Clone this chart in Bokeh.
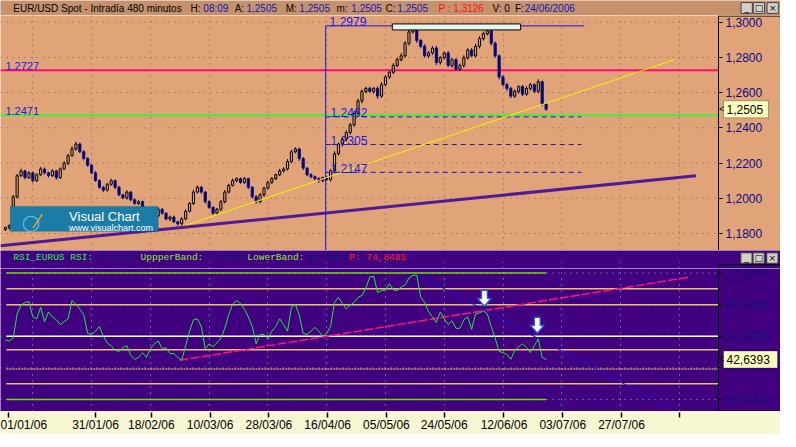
from bokeh.plotting import figure
from bokeh.layouts import column
from bokeh.models import Range1d, FixedTicker, Label, BoxAnnotation, ColumnDataSource
from bokeh.core.properties import value
from bokeh.embed import file_html
from bokeh.resources import INLINE

# ---------------- data ----------------
date_tick_idx = [0.75, 23.0, 37.25, 52.25, 67.25, 82.25, 97.25, 112.0, 127.25, 142.25, 157.25, 172.0]
date_tick_labels = ["01/01/06", "31/01/06", "18/02/06", "10/03/06", "28/03/06", "16/04/06",
                    "05/05/06", "24/05/06", "12/06/06", "03/07/06", "27/07/06", ""]
grid_idx = [7.0, 22.0, 37.0, 52.0, 67.0, 82.0, 97.0, 112.0, 127.0, 142.0, 157.0, 172.0]

price_ticks = [1.18, 1.20, 1.22, 1.24, 1.26, 1.28, 1.30]
price_tick_labels = ["1,1800", "1,2000", "1,2200", "1,2400", "1,2600", "1,2800", "1,3000"]
rsi_ticks = [30.0, 40.0, 50.0, 60.0, 70.0]
rsi_tick_labels = ["30,0000", "40,0000", "50,0000", "60,0000", "70,0000"]

open0 = 1.1822
close_prices = [
    1.1833, 1.1844, 1.2008, 1.2128, 1.2155, 1.2117, 1.2144, 1.2100, 1.2133, 1.2166,
    1.2144, 1.2128, 1.2155, 1.2117, 1.2166, 1.2198, 1.2242, 1.2280, 1.2308, 1.2264,
    1.2226, 1.2188, 1.2144, 1.2100, 1.2062, 1.2046, 1.2079, 1.2100, 1.2062, 1.2019,
    1.2002, 1.2035, 1.1991, 1.1970, 1.1980, 1.1942, 1.1915, 1.1937, 1.1899, 1.1937,
    1.1915, 1.1882, 1.1893, 1.1866, 1.1855, 1.1882, 1.1926, 1.1970, 1.2035, 1.2062,
    1.2035, 1.1980, 1.1948, 1.1915, 1.1937, 1.1980, 1.2035, 1.2073, 1.2100, 1.2111,
    1.2090, 1.2111, 1.2062, 1.2008, 1.1980, 1.2019, 1.2057, 1.2090, 1.2111, 1.2133,
    1.2155, 1.2166, 1.2209, 1.2264, 1.2280, 1.2226, 1.2171, 1.2133, 1.2122, 1.2111,
    1.2100, 1.2117, 1.2106, 1.2155, 1.2253, 1.2308, 1.2335, 1.2373, 1.2417, 1.2482,
    1.2553, 1.2607, 1.2624, 1.2607, 1.2624, 1.2580, 1.2645, 1.2689, 1.2716, 1.2754,
    1.2787, 1.2809, 1.2880, 1.2945, 1.2962, 1.2896, 1.2863, 1.2809, 1.2825, 1.2853,
    1.2771, 1.2798, 1.2825, 1.2754, 1.2787, 1.2733, 1.2754, 1.2798, 1.2842, 1.2809,
    1.2863, 1.2907, 1.2934, 1.2951, 1.2880, 1.2809, 1.2689, 1.2645, 1.2624, 1.2580,
    1.2607, 1.2634, 1.2591, 1.2624, 1.2645, 1.2607, 1.2662, 1.2536, 1.2505]
wick_up = [
    6, 8, 10, 9, 12, 7, 10, 6, 9, 11,
    8, 7, 10, 6, 9, 12, 10, 14, 12, 8,
    9, 7, 6, 10, 8, 7, 9, 11, 6, 8,
    7, 10, 6, 8, 9, 7, 6, 9, 8, 10,
    7, 6, 9, 8, 6, 10, 12, 9, 14, 10,
    8, 7, 9, 6, 8, 10, 12, 9, 11, 8,
    7, 10, 6, 8, 9, 11, 8, 10, 9, 7,
    12, 10, 14, 11, 9, 7, 8, 6, 9, 7,
    8, 6, 10, 12, 14, 9, 11, 13, 10, 15,
    12, 10, 9, 11, 8, 12, 14, 10, 9, 13,
    11, 15, 12, 16, 17, 10, 9, 12, 10, 11,
    13, 9, 8, 12, 10, 9, 11, 14, 10, 12,
    15, 13, 12, 24, 9, 11, 8, 10, 12, 9,
    11, 8, 10, 12, 9, 8, 14, 6, 5]
wick_dn = [
    8, 12, 6, 10, 8, 9, 7, 11, 8, 6,
    9, 10, 7, 12, 8, 6, 9, 7, 10, 8,
    11, 9, 8, 7, 10, 12, 8, 9, 11, 7,
    8, 10, 9, 7, 8, 11, 9, 8, 10, 7,
    9, 8, 11, 7, 12, 9, 8, 7, 9, 8,
    10, 11, 8, 9, 7, 10, 9, 8, 7, 9,
    8, 10, 11, 9, 12, 8, 10, 7, 9, 8,
    7, 9, 8, 10, 9, 14, 11, 8, 9, 10,
    12, 9, 8, 11, 13, 10, 15, 12, 11, 10,
    12, 14, 11, 10, 13, 15, 9, 10, 12, 11,
    10, 9, 11, 13, 10, 14, 12, 10, 13, 11,
    15, 12, 10, 11, 13, 9, 10, 12, 11, 9,
    10, 12, 11, 9, 13, 12, 14, 10, 15, 12,
    10, 13, 11, 9, 12, 10, 11, 13, 8]
rsi_values = [
    48.8, 48.5, 49.4, 57.1, 59.8, 60.7, 61.0, 56.1, 55.5, 59.2,
    54.6, 57.7, 56.1, 55.2, 53.7, 54.6, 55.5, 61.3, 60.1, 58.6,
    56.8, 50.9, 50.6, 51.6, 53.1, 50.0, 47.9, 47.0, 45.5, 45.2,
    46.4, 47.0, 43.9, 42.7, 43.3, 44.8, 43.3, 46.1, 47.6, 48.5,
    46.1, 46.4, 44.5, 44.5, 43.3, 42.4, 47.0, 51.6, 55.2, 55.5,
    53.1, 46.1, 47.6, 46.7, 47.9, 49.4, 52.5, 56.8, 60.1, 61.3,
    60.4, 58.6, 56.1, 53.1, 47.6, 50.6, 50.6, 49.1, 51.6, 53.1,
    55.5, 53.7, 51.6, 59.2, 60.1, 56.8, 50.9, 50.6, 51.6, 52.8,
    51.6, 50.0, 50.9, 53.1, 60.7, 62.3, 60.4, 58.6, 59.8, 60.7,
    62.3, 62.9, 65.3, 68.7, 69.0, 63.8, 64.4, 64.7, 66.6, 64.7,
    64.4, 65.6, 66.2, 68.4, 69.3, 69.3, 62.3, 60.7, 57.7, 56.1,
    54.3, 57.7, 55.5, 53.7, 54.9, 52.5, 52.5, 55.2, 56.1, 52.2,
    57.1, 57.4, 58.0, 57.1, 53.1, 49.4, 45.2, 44.8, 44.2, 42.7,
    45.5, 46.7, 47.6, 46.4, 44.8, 47.0, 49.1, 43.3, 42.6393]

# drawn studies (levels and trend lines)
level_red = 1.2727
level_green = 1.2471
fib_top = 1.2979
fib_levels = [1.2462, 1.2305, 1.2147]
fib_x = [81.75, 147.75]
top_box_x = [98.75, 131.5]
top_box_y = [1.2956, 1.2990]
support_x = [-1.25, 176.25]
support_y = [1.1730, 1.2128]
trend_x = [45.0, 170.75]
trend_y = [1.1838, 1.2787]
rsi_pink_x = [44.5, 174.5]
rsi_pink_y = [42.4, 68.7]
rsi_blue_x = [105.0, 171.25]
rsi_blue_y = [69.6, 26.2]
rsi_yellow_levels = [65.0, 60.0, 45.7, 35.0]
rsi_dotted_level = 39.6
rsi_mid = 50.0
rsi_bands = [70.0, 30.0]
rsi_arrows = [(122.25, 59.5), (135.75, 50.95)]

# header texts
hdr_items = [(13, "EUR/USD Spot - Intradía 480 minutos", "black"), (194, "H:", "black"),
             (207, "08:09", "#1418B4"), (239, "A:", "black"), (251, "1,2505", "#1418B4"),
             (291, "M:", "black"), (305, "1,2505", "#1418B4"), (343, "m:", "black"),
             (358, "1,2505", "#1418B4"), (393, "C:", "black"), (405, "1,2505", "#1418B4"),
             (447, "P : 1,3126", "#FF1010"), (502, "V: 0", "black"), (525, "F:", "black"),
             (535, "24/06/2006", "#1418B4")]
rsi_hdr = [(13, "RSI_EURUS RSI:", "#33E84A"), (98, "42,6393", "#1C1C78"),
           (143, "UppperBand:", "#8CF02A"), (208, "70,0000", "#1C1C78"),
           (252, "LowerBand:", "#8CF02A"), (312, "30,0000", "#1C1C78"),
           (356, "P: 74,8485", "#FF2020")]
win_buttons = [(761.5, "_"), (774.0, "□"), (788.0, "×")]

# ---------------- styling / layout ----------------
W = 780
H_HDR, H_PRICE, H_RT, H_RSI = 15, 235, 18, 143
HDR = "#C6916D"
BG = "#E1A479"
PURPLE = "#400080"
XBG = "#F7F7D4"
NAVY = "#0A0A8C"
FONT = "Liberation Sans"
MONO = "Liberation Mono"

AX_X = 182.0                      # data x where the price axis sits (ref pixel 733)
UPP = 183.25 / 718                # data units per screen pixel
X_RANGE = Range1d(-1.25, -1.25 + UPP * W)
X_END = X_RANGE.end
P_YR = (1.1703, 1.3038)
R_YR = (26.18, 71.44)


def fx(x):  # reference pixel -> screen pixel
    return x * 718 / 733


def ref_to_idx(px):
    return -1.25 + px * 0.25


def ppy(y):  # price frame y from bottom
    return (261 - y) * H_PRICE / 245


def lab(fig, x, y, text, color, size="11px", font=FONT, xu="screen", yu="screen",
        align="left", base="middle", yoff=0, **kw):
    fig.add_layout(Label(x=x, y=y, x_units=xu, y_units=yu, text=text, text_color=color,
                         text_font_size=size, text_font=font, text_align=align,
                         text_baseline=base, y_offset=yoff, **kw))


def base_fig(h, yr, bg):
    f = figure(frame_width=W, frame_height=h, x_range=X_RANGE, y_range=Range1d(*yr),
               x_axis_location=None, y_axis_location="right", output_backend="svg",
               toolbar_location=None, min_border=0, background_fill_color=bg,
               border_fill_color=bg, outline_line_color=None)
    ax = f.yaxis[0]
    ax.fixed_location = AX_X
    ax.axis_line_color = "black"
    ax.major_tick_line_color = "black"
    ax.major_tick_out = 4
    ax.major_tick_in = 0
    ax.minor_tick_line_color = None
    ax.major_label_standoff = 3
    ax.major_label_text_font = FONT
    ax.major_label_text_font_size = "12px"
    f.ygrid.visible = False
    f.xgrid.ticker = FixedTicker(ticks=grid_idx)
    return f


def value_box(fig, yv, text, per_px, width):
    fig.add_layout(BoxAnnotation(left=AX_X + 5 * UPP, right=AX_X + (5 + width) * UPP,
                                 bottom=yv - 8.5 * per_px, top=yv + 8.5 * per_px,
                                 fill_color="#FFFFC0", fill_alpha=1, line_color="black",
                                 line_width=1))
    fig.add_layout(Label(x=AX_X + 0.5 * UPP, y=yv, text="<", text_color="black",
                         text_font_size="9px", text_font=FONT, text_baseline="middle"))
    fig.add_layout(Label(x=AX_X + 8 * UPP, y=yv, text=text, text_color="black",
                         text_font_size="12px", text_font=FONT, text_baseline="middle"))


def add_buttons(fig, xs, ys, w, h):
    fig.rect(x=xs, y=ys, width=w, height=h, fill_color="#D4D0C8", line_color="#404040")
    fig.text(x=xs, y=ys, text=[b[1] for b in win_buttons], text_color="black",
             text_font=value("DejaVu Sans"), text_font_size=value("9px"),
             text_align="center", text_baseline="middle")


# ---------------- header ----------------
hdr = figure(frame_width=W, frame_height=H_HDR, x_range=Range1d(0, 796), y_range=Range1d(0, 16),
             x_axis_location=None, y_axis_location=None, output_backend="svg",
             toolbar_location=None, min_border=0, background_fill_color=HDR,
             border_fill_color=HDR, outline_line_color=None)
hdr.grid.visible = False
hsrc = ColumnDataSource(dict(x=[h[0] for h in hdr_items], y=[8.0] * len(hdr_items),
                             t=[h[1] for h in hdr_items], c=[h[2] for h in hdr_items]))
hdr.text(x="x", y="y", text="t", text_color="c", source=hsrc, text_font=value(FONT),
         text_font_size=value("10px"), text_align="left", text_baseline="middle")
add_buttons(hdr, [b[0] for b in win_buttons], [8.0] * 3, 11.5, 11.5)

# ---------------- price panel ----------------
p = base_fig(H_PRICE, P_YR, BG)
p.yaxis.ticker = FixedTicker(ticks=price_ticks)
p.yaxis.major_label_overrides = dict(zip(price_ticks, price_tick_labels))
p.yaxis.major_label_text_color = NAVY
p.xgrid.grid_line_color = "#7E5E4C"
p.xgrid.grid_line_dash = "1 5"
p.segment(x0=X_RANGE.start, x1=AX_X, y0=price_ticks, y1=price_ticks, line_color="#7E5E4C",
          line_dash="1 5", line_width=1)
p_pp = (P_YR[1] - P_YR[0]) / H_PRICE
p.line([AX_X, X_END], [P_YR[1] - 0.5 * p_pp] * 2, line_color="black", line_width=1)

XL = [X_RANGE.start, AX_X]
p.line(XL, [level_red] * 2, line_color="#FF0A78", line_width=2)
p.line(XL, [level_green] * 2, line_color="#3CF03C", line_width=2)
for lv, c in zip(fib_levels, ["#1010E6", "#24208A", "#1010E6"]):
    p.line([fib_x[0], fib_x[1] - 0.75], [lv, lv], line_color=c, line_width=1, line_dash="5 4")

n = len(close_prices)
idx = list(range(n))
opens = [open0] + close_prices[:-1]
highs = [max(o, c) + u * 0.0001 for o, c, u in zip(opens, close_prices, wick_up)]
lows = [min(o, c) - d * 0.0001 for o, c, d in zip(opens, close_prices, wick_dn)]
is_up = [c >= o for o, c in zip(opens, close_prices)]
src = ColumnDataSource(dict(
    x=idx, top=[max(o, c) for o, c in zip(opens, close_prices)],
    bottom=[min(o, c) for o, c in zip(opens, close_prices)], hi=highs, lo=lows,
    fill=[BG if u else "#06064A" for u in is_up],
    line=["black" if u else "#0C0C8A" for u in is_up]))
p.segment(x0="x", y0="lo", x1="x", y1="hi", line_color="line", line_width=1, source=src)
p.vbar(x="x", width=0.55, top="top", bottom="bottom", fill_color="fill", line_color="line",
       line_width=1, source=src)

p.line([fib_x[0]] * 2, [P_YR[0], fib_top], line_color="#1414F0", line_width=1)
p.line(fib_x, [fib_top] * 2, line_color="#1414F0", line_width=1)
p.quad(left=top_box_x[0], right=top_box_x[1], bottom=top_box_y[0], top=top_box_y[1],
       fill_color="#E6F8EE", line_color="black", line_width=1)
p.line(trend_x, trend_y, line_color="#FFEE00", line_width=1)
p.line(support_x, support_y, line_color="#501A96", line_width=3)

LB = "#1A1AE6"
lab(p, fx(5), level_red, "1.2727", LB, yu="data", base="alphabetic", yoff=4)
lab(p, fx(5), level_green, "1.2471", LB, yu="data", base="alphabetic", yoff=4)
lab(p, fx(336), fib_top, "1.2979", LB, size="12px", yu="data", base="alphabetic", yoff=4)
for lv in fib_levels:
    lab(p, fx(337), lv, f"{lv:.4f}", LB, size="12px", yu="data", base="alphabetic", yoff=4)

last = close_prices[-1]
value_box(p, last, f"{last:.4f}".replace(".", ","), p_pp, 45)

# Visual Chart logo
p.add_layout(BoxAnnotation(left=fx(10), right=fx(161), bottom=ppy(241), top=ppy(215),
                           left_units="screen", right_units="screen", top_units="screen",
                           bottom_units="screen", fill_color="#1C7CA8", fill_alpha=1,
                           line_color="#0E4A6A", line_width=1, level="overlay"))
lab(p, fx(22), ppy(232), "◯", "#6FC4EE", size="16px", font="DejaVu Sans", level="overlay")
lab(p, fx(36), ppy(230), "⁄", "#F0A020", size="20px", font="DejaVu Sans", level="overlay")
lab(p, fx(70), ppy(226), "Visual Chart", "white", size="13px", level="overlay")
lab(p, fx(70), ppy(238), "www.visualchart.com", "white", size="9px", level="overlay")

# ---------------- RSI title strip ----------------
rt = figure(frame_width=W, frame_height=H_RT, x_range=X_RANGE, y_range=Range1d(0, 19),
            x_axis_location=None, y_axis_location=None, output_backend="svg",
            toolbar_location=None, min_border=0, background_fill_color=PURPLE,
            border_fill_color=PURPLE, outline_line_color=None)
rt.grid.visible = False
rt.segment(x0=grid_idx, x1=grid_idx, y0=[0.0] * len(grid_idx), y1=[7.0] * len(grid_idx),
           line_color="#A8A8B8", line_dash="1 5")
rt.line([AX_X, AX_X, X_END], [0.0, 4.0, 4.0], line_color="black", line_width=1)
rsrc = ColumnDataSource(dict(x=[ref_to_idx(h[0]) for h in rsi_hdr], y=[12.0] * len(rsi_hdr),
                             t=[h[1] for h in rsi_hdr], c=[h[2] for h in rsi_hdr]))
rt.text(x="x", y="y", text="t", text_color="c", source=rsrc, text_font=value(MONO),
        text_font_size=value("9.5px"), text_align="left", text_baseline="middle")
add_buttons(rt, [ref_to_idx(b[0]) for b in win_buttons], [11.0] * 3, 2.85, 11.0)

# ---------------- RSI panel ----------------
r = base_fig(H_RSI, R_YR, PURPLE)
r.yaxis.ticker = FixedTicker(ticks=rsi_ticks)
r.yaxis.major_label_overrides = dict(zip(rsi_ticks, rsi_tick_labels))
r.yaxis.major_label_text_color = "#12107A"
r.xgrid.grid_line_color = "#A8A8B8"
r.xgrid.grid_line_dash = "1 5"
r.segment(x0=X_RANGE.start, x1=AX_X, y0=rsi_ticks, y1=rsi_ticks, line_color="#A8A8B8",
          line_dash="1 5", line_width=1)
dy = (R_YR[1] - R_YR[0]) / H_RSI
r.line([AX_X, X_END], [R_YR[0] + 0.5 * dy] * 2, line_color="black", line_width=1)

XR = [0.25, AX_X]
for lv in rsi_yellow_levels:
    r.line(XR, [lv, lv], line_color="#E8C46A", line_width=1.5)
r.line(XR, [rsi_dotted_level] * 2, line_color="#C8A060", line_width=1.5, line_dash="2 1")
r.line(XR, [rsi_mid] * 2, line_color="white", line_width=1.5)
for lv in rsi_bands:
    r.line([0.25, n - 1], [lv, lv], line_color="#6CE000", line_width=1.5)
r.line(rsi_pink_x, rsi_pink_y, line_color="#FF1478", line_width=1.5, line_dash="9 2")
r.line(rsi_blue_x, rsi_blue_y, line_color="#1414D0", line_width=1)
r.line(idx, rsi_values, line_color="#22E83A", line_width=1)

arrow_shape = [(0, 0), (-7, 8), (-3, 8), (-3, 16), (3, 16), (3, 8), (7, 8)]
r.patches([[ax + sx * UPP for sx, sy in arrow_shape] for ax, ay in rsi_arrows],
          [[ay + sy * dy for sx, sy in arrow_shape] for ax, ay in rsi_arrows],
          fill_color="white", line_color="#3050E0", line_width=1.5)
lastr = rsi_values[-1]
value_box(r, lastr, f"{lastr:.4f}".replace(".", ","), dy, 54)

# ---------------- date axis strip ----------------
xa = figure(frame_width=W, frame_height=1, x_range=X_RANGE, y_range=(0, 1),
            x_axis_location="below", y_axis_location=None, output_backend="svg",
            toolbar_location=None, min_border_left=0, min_border_right=0, min_border_top=0,
            min_border_bottom=18, background_fill_color=XBG, border_fill_color=XBG,
            outline_line_color=None)
xa.grid.visible = False
xa.xaxis.ticker = FixedTicker(ticks=date_tick_idx)
xa.xaxis.major_label_overrides = dict(zip(date_tick_idx, date_tick_labels))
xa.xaxis.axis_line_color = None
xa.xaxis.major_tick_line_color = "black"
xa.xaxis.major_tick_line_width = 1.5
xa.xaxis.major_tick_out = 5
xa.xaxis.major_tick_in = 0
xa.xaxis.minor_tick_line_color = None
xa.xaxis.major_label_standoff = 0
xa.xaxis.major_label_text_align = "left"
xa.xaxis.major_label_text_color = "black"
xa.xaxis.major_label_text_font = FONT
xa.xaxis.major_label_text_font_size = "12px"

layout = column(hdr, p, rt, r, xa, spacing=0)
open("out.html", "w").write(file_html(layout, INLINE))
